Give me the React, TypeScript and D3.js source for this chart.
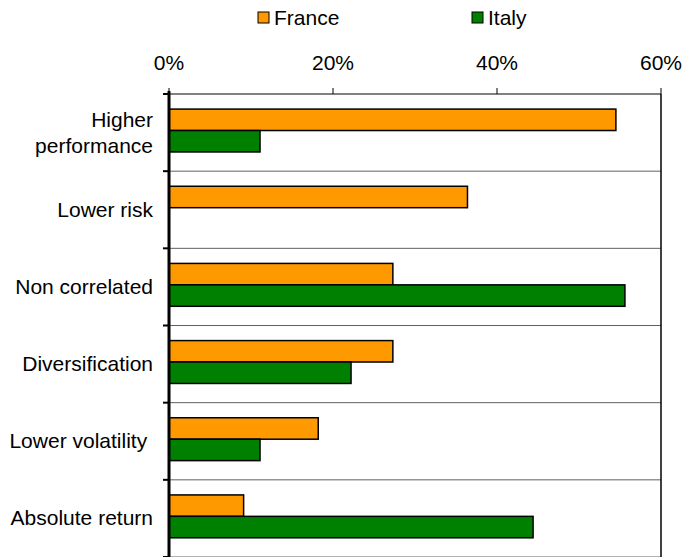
import React from "react";
import * as d3 from "d3";

const categories = [
  "Higher\nperformance",
  "Lower risk",
  "Non correlated",
  "Diversification",
  "Lower volatility ",
  "Absolute return",
];
const seriesNames = ["France", "Italy"];
const france = [54.5, 36.4, 27.3, 27.3, 18.2, 9.1];
const italy = [11.1, 0, 55.6, 22.2, 11.1, 44.4];
const xTicks = [0, 20, 40, 60];
const colors = ["#FF9900", "#008000"];

const W = 692;
const H = 557;
const M = { left: 169, right: 661, top: 94, bottom: 557 };
const FONT = "'Liberation Sans', Arial, sans-serif";
const FS = 21;

export default function App() {
  const x = d3.scaleLinear().domain([0, 60]).range([M.left, M.right]);
  const y0 = d3.scaleBand<string>().domain(categories).range([M.top, M.bottom]).padding(0);
  const y1 = d3
    .scaleBand<string>()
    .domain(seriesNames)
    .range([0, y0.bandwidth()])
    .paddingInner(0)
    .paddingOuter(0.8)
    .align(0.44);
  const values = [france, italy];
  const boundaries = categories.map((c) => y0(c) as number).concat([M.bottom]);

  return (
    <svg
      width={W}
      height={H}
      style={{ position: "absolute", left: 0, top: 0, background: "#fff" }}
      fontFamily={FONT}
    >
      <rect x={0} y={0} width={W} height={H} fill="#fff" />
      {/* legend */}
      {seriesNames.map((s, i) => {
        const lx = i === 0 ? 258 : 472;
        return (
          <g key={s}>
            <rect x={lx} y={12} width={11} height={11} fill={colors[i]} stroke="#000" strokeWidth={1} />
            <text x={lx + 16} y={25} fontSize={FS} fill="#000">
              {s}
            </text>
          </g>
        );
      })}
      {/* row grid lines */}
      {boundaries.map((b, i) => (
        <line
          key={"g" + i}
          x1={M.left}
          x2={M.right}
          y1={b}
          y2={b}
          stroke={i === 0 ? "#000" : "#606060"}
          strokeWidth={1}
        />
      ))}
      {/* right border */}
      <line x1={M.right} x2={M.right} y1={M.top} y2={M.bottom} stroke="#000" strokeWidth={1.5} />
      {/* top axis ticks and labels */}
      {xTicks.map((t) => (
        <g key={"t" + t}>
          <line x1={x(t)} x2={x(t)} y1={M.top - 6} y2={M.top} stroke="#000" strokeWidth={1} />
          <text x={x(t)} y={70} textAnchor="middle" fontSize={FS} fill="#000">
            {t}%
          </text>
        </g>
      ))}
      {/* bars */}
      {categories.map((c, ci) =>
        seriesNames.map((s, si) => {
          const v = values[si][ci];
          if (v <= 0) return null;
          const yy = (y0(c) as number) + (y1(s) as number);
          return (
            <rect
              key={c + s}
              x={x(0)}
              y={yy}
              width={x(v) - x(0)}
              height={y1.bandwidth()}
              fill={colors[si]}
              stroke="#000"
              strokeWidth={1.5}
            />
          );
        })
      )}
      {/* left axis */}
      <line x1={M.left} x2={M.left} y1={M.top - 3} y2={M.bottom} stroke="#000" strokeWidth={3} />
      {boundaries.map((b, i) => (
        <line key={"lt" + i} x1={M.left - 6} x2={M.left} y1={b} y2={b} stroke="#000" strokeWidth={2} />
      ))}
      {/* category labels */}
      {categories.map((c) => {
        const lines = c.split("\n");
        const cy = (y0(c) as number) + y0.bandwidth() / 2;
        const lh = 26;
        return (
          <text
            key={"l" + c}
            textAnchor="end"
            fontSize={FS}
            fill="#000"
            style={{ whiteSpace: "pre" }}
          >
            {lines.map((ln, li) => (
              <tspan key={li} x={153} y={cy + 7 + (li - (lines.length - 1) / 2) * lh}>
                {ln}
              </tspan>
            ))}
          </text>
        );
      })}
    </svg>
  );
}
